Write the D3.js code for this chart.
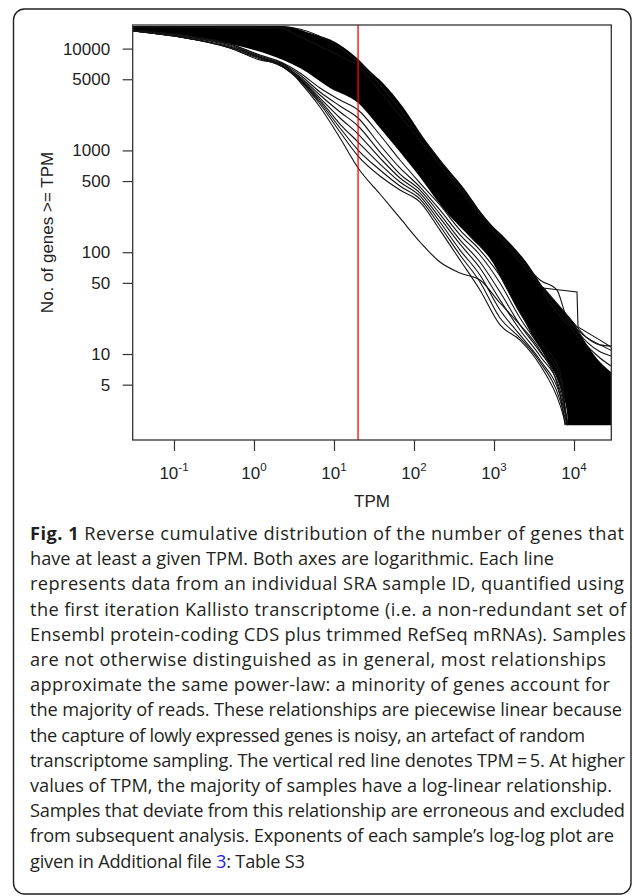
<!DOCTYPE html>
<html><head><meta charset="utf-8">
<script src="https://cdn.jsdelivr.net/npm/d3@7/dist/d3.min.js"></script>
<style>body{margin:0;background:#fff}svg{display:block}</style>
</head><body>
<svg id="c" width="633" height="896"></svg>
<script>
// ---------- data (TPM, number of genes >= TPM) ----------
const yTicks = [5, 10, 50, 100, 500, 1000, 5000, 10000];
const xTicks = [0.1, 1, 10, 100, 1000, 10000];
const xTickExp = ["-1", "0", "1", "2", "3", "4"];
const redLineTPM = 20;
const xLabel = "TPM";
const yLabel = "No. of genes >= TPM";

// upper edge of the dense band of samples
const bandUpper = [[0.0307,16670],[2.30,16670],[5.01,14230],[10.9,11350],[19.4,8085],[28.2,6026],[41.0,4593],[72.9,2669],[130,1354],[230,752],[410,437],[817,207],[1454,132],[2585,78.3],[4097,45.5],[6683,29.0],[9716,20.6],[14540,12.3],[21135,8.34],[29000,6.66]];
// lower edge of the dense band of samples
const bandLower = [[0.0307,15230],[0.119,13600],[0.501,11100],[1.58,8650],[3.76,6446],[8.91,4102],[20.0,2921],[37.6,1660],[66.8,964],[106,614],[258,243],[501,141],[971,78.3],[1454,42.5],[2113,25.3],[3073,14.7],[4597,8.73],[6683,4.74],[8175,2.63],[8414,2]];
const minCount = 2;

// individual deviating samples
const sampleA = [[0.0307,14890],[0.119,13000],[0.501,10140],[1.19,7727],[2.30,7060],[3.76,4697],[6.68,2669],[11.9,1324],[20.0,672],[37.6,373],[66.8,217],[119,126],[211,80.1],[376,62.5],[668,53.3],[1189,31.7],[2113,19.3],[3758,10.9],[6683,3.96],[7720,2]];
const sampleB1 = [[0.0307,15228],[0.119,13600],[0.501,11100],[1.19,8650],[2.30,7220],[3.76,5760],[6.68,4102],[11.9,3126],[20.0,2494],[37.6,1417],[66.8,805],[119,478],[211,291],[376,165],[668,105],[1189,58.4],[2113,25.3],[3758,13.1],[6683,6.66],[8175,2]];
const sampleB2 = [[0.0307,15228],[0.119,13600],[0.501,11100],[1.19,8460],[2.30,7060],[3.76,5505],[6.68,3747],[11.9,2730],[20.0,2082],[37.6,1130],[66.8,672],[119,437],[211,260],[376,148],[668,93.9],[1189,49.8],[2113,22.6],[3758,11.7],[6683,5.81],[8175,2]];
const sampleB3 = [[0.0307,14890],[0.119,13300],[0.501,10850],[1.19,8270],[2.30,6900],[3.76,5260],[6.68,3501],[11.9,2384],[20.0,1737],[37.6,964],[66.8,586],[119,408],[211,237],[376,132],[668,80.1],[1189,40.6],[2113,19.3],[3758,10.5],[6683,4.96],[8414,2]];
const sampleB4 = [[0.0307,14890],[0.119,13300],[0.501,10605],[1.19,8270],[2.30,6748],[3.76,5143],[6.68,3271],[11.9,2082],[20.0,1449],[37.6,842],[66.8,536],[119,381],[211,217],[376,120],[668,70.0],[1189,33.9],[2113,17.2],[3758,9.56],[6683,4.43],[8414,2]];
const sampleB5 = [[0.0307,14890],[0.119,13000],[0.501,10370],[1.19,8085],[2.30,6748],[3.76,5028],[6.68,3126],[11.9,1817],[20.0,1209],[37.6,735],[66.8,489],[119,356],[211,198],[376,105],[668,59.7],[1189,27.1],[2113,15.4],[3758,8.73],[6683,3.96],[8414,2]];
const sampleB6 = [[0.0307,14890],[0.119,13000],[0.501,10370],[1.19,8085],[2.30,6596],[3.76,4914],[6.68,2988],[11.9,1660],[20.0,1009],[37.6,642],[66.8,447],[119,333],[211,181],[376,93.9],[668,51.0],[1189,22.6],[2113,14.4],[3758,8.34],[6683,3.53],[8175,2]];
const sampleB7 = [[0.0307,14890],[0.119,13000],[0.501,10140],[1.19,7905],[2.30,6596],[3.76,4805],[6.68,2856],[11.9,1516],[20.0,881],[37.6,560],[66.8,408],[119,311],[211,165],[376,83.8],[668,42.5],[1189,19.3],[2113,13.7],[3758,7.80],[6683,3.16],[7943,2]];
const sampleC = [[0.0307,16300],[2.30,15930],[20.0,6900],[119,1265],[668,232],[2113,80.1],[4097,44.5],[10900,40.6],[11220,18.4],[21135,13.7],[29000,11.7]];
const sampleD = [[0.0307,16300],[2.30,16300],[20.0,7386],[119,1417],[668,248],[2113,87.7],[3758,53.3],[6131,42.5],[7720,25.3],[11885,16.4],[21135,12.3],[29000,10.9]];
const sampleE1 = [[4097,45.5],[6683,29.0],[9716,20.6],[14540,14.4],[21135,12.3],[29000,12.0]];
const sampleE2 = [[4097,42.5],[6683,25.9],[9716,18.8],[14540,13.1],[21135,10.5],[29000,9.56]];
const sampleE3 = [[4097,39.7],[6683,23.6],[9716,17.2],[14540,12.0],[21135,9.14],[29000,7.62]];

const smoothSamples = [sampleA, sampleB1, sampleB2, sampleB3, sampleB4, sampleB5, sampleB6, sampleB7, sampleD, sampleE1, sampleE2, sampleE3];
const stepSamples = [sampleC];

const captionLines = [
  [["Fig. 1", true], [" Reverse cumulative distribution of the number of genes that"]],
  [["have at least a given TPM. Both axes are logarithmic. Each line"]],
  [["represents data from an individual SRA sample ID, quantified using"]],
  [["the first iteration Kallisto transcriptome (i.e. a non-redundant set of"]],
  [["Ensembl protein-coding CDS plus trimmed RefSeq mRNAs). Samples"]],
  [["are not otherwise distinguished as in general, most relationships"]],
  [["approximate the same power-law: a minority of genes account for"]],
  [["the majority of reads. These relationships are piecewise linear because"]],
  [["the capture of lowly expressed genes is noisy, an artefact of random"]],
  [["transcriptome sampling. The vertical red line denotes TPM\u2009=\u20095. At higher"]],
  [["values of TPM, the majority of samples have a log-linear relationship."]],
  [["Samples that deviate from this relationship are erroneous and excluded"]],
  [["from subsequent analysis. Exponents of each sample\u2019s log-log plot are"]],
  [["given in Additional file "], ["3", false, true], [": Table S3"]]
];
const captionRight = [624, 519, 624, 626, 626, 606, 610, 622, 585, 625, 612, 625, 614, 305];

// ---------- layout ----------
const svg = d3.select("#c");
const L = 132.7, R = 611.3, T = 25, B = 440;
const x = d3.scaleLog().domain([0.0305, 29250]).range([L, R]);
const y = d3.scaleLog().domain([1.43, 17060]).range([B, T]);
const axisFont = "'Liberation Sans', Arial, Helvetica, sans-serif";
const ink = "#333";

// outer rounded frame
svg.append("rect").attr("x", 13.5).attr("y", 9).attr("width", 617.5).attr("height", 885)
  .attr("rx", 11).attr("fill", "none").attr("stroke", "#231f20").attr("stroke-width", 1.4);

svg.append("clipPath").attr("id", "clip").append("rect")
  .attr("x", L).attr("y", T).attr("width", R - L).attr("height", B - T);
const plot = svg.append("g").attr("clip-path", "url(#clip)");

// dense band: black under upper edge, then white under lower edge
const areaUp = d3.area().x(d => x(d[0])).y0(y(minCount)).y1(d => y(d[1])).curve(d3.curveMonotoneX);
const areaLow = d3.area().x(d => x(d[0])).y0(B + 8).y1(d => y(d[1])).curve(d3.curveMonotoneX);
plot.append("path").datum(bandUpper).attr("d", areaUp).attr("fill", "#000");
plot.append("path").datum(bandLower).attr("d", areaLow).attr("fill", "#fff");

const lineSmooth = d3.line().x(d => x(d[0])).y(d => y(d[1])).curve(d3.curveMonotoneX);
const lineStep = d3.line().x(d => x(d[0])).y(d => y(d[1]));
plot.selectAll("path.s").data(smoothSamples).join("path").attr("class", "s")
  .attr("d", lineSmooth).attr("fill", "none").attr("stroke", "#111").attr("stroke-width", 1.1);
plot.selectAll("path.st").data(stepSamples).join("path").attr("class", "st")
  .attr("d", lineStep).attr("fill", "none").attr("stroke", "#111").attr("stroke-width", 1.1);

// red vertical line
plot.append("line").attr("x1", x(redLineTPM)).attr("x2", x(redLineTPM))
  .attr("y1", T).attr("y2", B).attr("stroke", "#ff0000").attr("stroke-width", 1.3);

// plot frame
svg.append("rect").attr("x", L).attr("y", T).attr("width", R - L).attr("height", B - T)
  .attr("fill", "none").attr("stroke", ink).attr("stroke-width", 1.3);

// y axis
const gy = svg.append("g").attr("transform", `translate(${L},0)`)
  .call(d3.axisLeft(y).tickValues(yTicks).tickFormat(d3.format("d")).tickSize(10).tickSizeOuter(0).tickPadding(12.5));
gy.select(".domain").remove();
gy.selectAll("line").attr("stroke", ink).attr("stroke-width", 1.2);
gy.selectAll("text").attr("font-family", axisFont).attr("font-size", 17).attr("fill", "#222");

// x axis
const gx = svg.append("g").attr("transform", `translate(0,${B})`)
  .call(d3.axisBottom(x).tickValues(xTicks).tickFormat("").tickSize(11).tickSizeOuter(0));
gx.select(".domain").remove();
gx.selectAll("line").attr("stroke", ink).attr("stroke-width", 1.2);
const xl = svg.append("g").attr("font-family", axisFont).attr("fill", "#222");
xTicks.forEach((t, i) => {
  const tx = xl.append("text").attr("x", x(t)).attr("y", 479).attr("text-anchor", "middle").attr("font-size", 17);
  tx.append("tspan").text("10");
  tx.append("tspan").attr("dy", -8).attr("font-size", 11.5).text(xTickExp[i]);
});
svg.append("text").attr("x", (L + R) / 2).attr("y", 507).attr("text-anchor", "middle")
  .attr("font-family", axisFont).attr("font-size", 17).attr("fill", "#222").text(xLabel);
svg.append("text").attr("transform", `translate(47,${(T + B) / 2}) rotate(-90)`)
  .attr("dy", "0.35em").attr("text-anchor", "middle")
  .attr("font-family", axisFont).attr("font-size", 17).attr("fill", "#222").text(yLabel);

// caption
const cap = svg.append("g").attr("font-family", "'Open Sans', 'Noto Sans', sans-serif").attr("fill", "#231f20");
const capNodes = captionLines.map((parts, i) => {
  const t = cap.append("text").attr("x", 30).attr("y", 540 + i * 25.2).attr("font-size", 20);
  parts.forEach(p => {
    const s = t.append("tspan").text(p[0]);
    if (p[1]) s.attr("font-weight", "bold");
    if (p[2]) s.attr("fill", "#1f1fe6");
  });
  return t;
});
const ratios = capNodes.map((t, i) => (captionRight[i] - 30) / t.node().getComputedTextLength()).sort((a, b) => a - b);
const fs = 20 * ratios[Math.floor(ratios.length / 2)];
capNodes.forEach((t, i) => {
  t.attr("font-size", fs);
  const w = t.node().getComputedTextLength();
  const target = captionRight[i] - 30;
  if (Math.abs(target - w) / w < 0.06) t.attr("textLength", target).attr("lengthAdjust", "spacing");
});
</script>
</body></html>
